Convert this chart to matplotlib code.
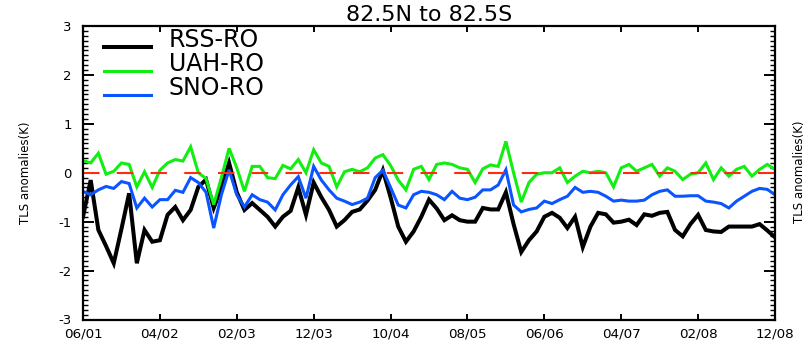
import numpy as np
import matplotlib
matplotlib.use("Agg")
import matplotlib.pyplot as plt
from matplotlib.legend_handler import HandlerLine2D
from matplotlib.lines import Line2D
from matplotlib.ticker import MultipleLocator

plt.rcParams['font.family'] = ['DejaVu Sans']
plt.rcParams['axes.unicode_minus'] = False

# ---------------- data ----------------
title = "82.5N to 82.5S"
ylabel = "TLS anomalies(K)"
series_names = ["RSS-RO", "UAH-RO", "SNO-RO"]
tick_labels = ["06/01", "04/02", "02/03", "12/03", "10/04",
               "08/05", "06/06", "04/07", "02/08", "12/08"]
tick_step_months = 10

rss = [-0.9, -0.15, -1.17, -1.5, -1.85, -1.15, -0.42, -1.85, -1.17, -1.41,
       -1.38, -0.86, -0.7, -0.97, -0.76, -0.29, -0.14, -0.72, -0.3, 0.2,
       -0.4, -0.76, -0.62, -0.76, -0.9, -1.1, -0.9, -0.78, -0.3, -0.86,
       -0.2, -0.5, -0.76, -1.1, -0.97, -0.8, -0.75, -0.57, -0.35, 0.05,
       -0.5, -1.1, -1.41, -1.2, -0.9, -0.55, -0.73, -0.97, -0.87, -0.97,
       -1.0, -1.0, -0.72, -0.75, -0.75, -0.4, -1.05, -1.62, -1.38, -1.2,
       -0.9, -0.82, -0.92, -1.13, -0.9, -1.52, -1.1, -0.82, -0.85, -1.02,
       -1.0, -0.96, -1.07, -0.85, -0.88, -0.82, -0.8, -1.17, -1.3, -1.05,
       -0.86, -1.17, -1.2, -1.21, -1.1, -1.1, -1.1, -1.1, -1.05, -1.18, -1.32]

uah = [0.25, 0.2, 0.4, -0.03, 0.03, 0.2, 0.17, -0.29, 0.02, -0.3,
       0.05, 0.2, 0.27, 0.24, 0.53, 0.0, -0.12, -0.65, -0.1, 0.5,
       0.1, -0.38, 0.13, 0.13, -0.1, -0.12, 0.15, 0.08, 0.27, 0.0,
       0.47, 0.2, 0.13, -0.29, 0.02, 0.07, 0.02, 0.1, 0.3, 0.37,
       0.15, -0.15, -0.35, 0.07, 0.13, -0.14, 0.17, 0.2, 0.17, 0.1,
       0.07, -0.2, 0.08, 0.16, 0.13, 0.64, 0.0, -0.6, -0.2, -0.03,
       0.0, 0.0, 0.1, -0.2, -0.07, 0.03, 0.0, 0.03, 0.0, -0.29,
       0.1, 0.17, 0.03, 0.1, 0.17, -0.07, 0.1, 0.03, -0.14, -0.03,
       0.0, 0.2, -0.14, 0.1, -0.07, 0.07, 0.13, -0.07, 0.07, 0.17, 0.07]

sno = [-0.38, -0.45, -0.35, -0.28, -0.32, -0.18, -0.22, -0.72, -0.52, -0.7,
       -0.55, -0.55, -0.36, -0.4, -0.1, -0.2, -0.4, -1.13, -0.45, 0.06,
       -0.45, -0.7, -0.45, -0.55, -0.6, -0.76, -0.45, -0.25, -0.08, -0.52,
       0.13, -0.15, -0.35, -0.52, -0.58, -0.65, -0.6, -0.52, -0.1, 0.05,
       -0.3, -0.66, -0.72, -0.45, -0.38, -0.4, -0.45, -0.55, -0.38, -0.52,
       -0.55, -0.5, -0.35, -0.35, -0.25, 0.06, -0.66, -0.8, -0.75, -0.72,
       -0.58, -0.63, -0.55, -0.48, -0.3, -0.4, -0.38, -0.4, -0.48, -0.58,
       -0.56, -0.58, -0.58, -0.56, -0.45, -0.38, -0.35, -0.48, -0.48, -0.47,
       -0.47, -0.58, -0.6, -0.63, -0.72, -0.58, -0.48, -0.38, -0.32, -0.34, -0.45]

months = np.arange(len(rss))


class BaselineLine(HandlerLine2D):
    """Legend sample drawn near the text baseline (IDL style)."""
    def create_artists(self, legend, orig_handle, xdescent, ydescent,
                       width, height, fontsize, trans):
        return super().create_artists(legend, orig_handle, xdescent,
                                      ydescent + 0.64 * fontsize,
                                      width, height, fontsize, trans)


# ---------------- figure ----------------
fig = plt.figure(figsize=(8.07, 3.43), dpi=100)
ax = fig.add_axes([83 / 807, 1 - 319.5 / 343, 692 / 807, 293.5 / 343])

colors = ["#000000", "#12ee12", "#0a55ff"]
widths = [2.9, 2.2, 2.2]
for vals, name, c, lw in zip([rss, uah, sno], series_names, colors, widths):
    ax.plot(months, vals, color=c, lw=lw, label=name, solid_joinstyle='miter')

ax.axhline(0, color="#ff2a10", lw=1.5, dashes=(7.9, 8.3))

ax.set_xlim(months[0], months[-1])
ax.set_ylim(-3, 3)
ax.set_xticks(months[::tick_step_months])
ax.set_xticklabels(tick_labels)
ax.yaxis.set_major_locator(MultipleLocator(1))
ax.yaxis.set_minor_locator(MultipleLocator(0.1))
ax.tick_params(axis='x', which='major', direction='in', top=True, bottom=True,
               length=4.5, width=1.4, labelsize=9.7, pad=5.6)
ax.tick_params(axis='y', which='major', direction='in', left=True, right=True,
               length=8, width=1.4, labelsize=9.5, pad=8)
ax.tick_params(axis='y', which='minor', direction='in', left=True, right=True,
               length=3.6, width=1.0)
for s in ax.spines.values():
    s.set_linewidth(1.6)

ax.set_title(title, fontsize=16, pad=3.6)
ax.set_ylabel(ylabel, fontsize=8.5)
ax.yaxis.set_label_coords(-0.074, 0.5)

# label of the neighbouring panel, visible at the right edge
fig.text(806 / 807, 0.5, ylabel, rotation=90, fontsize=8.5,
         ha='right', va='center')

leg = ax.legend(loc='upper left', bbox_to_anchor=(0.030, 0.992), frameon=False,
                fontsize=17, handlelength=2.0, handletextpad=0.76,
                labelspacing=0.0, borderpad=0, borderaxespad=0,
                handler_map={Line2D: BaselineLine()})

fig.savefig("out.png", dpi=100)
